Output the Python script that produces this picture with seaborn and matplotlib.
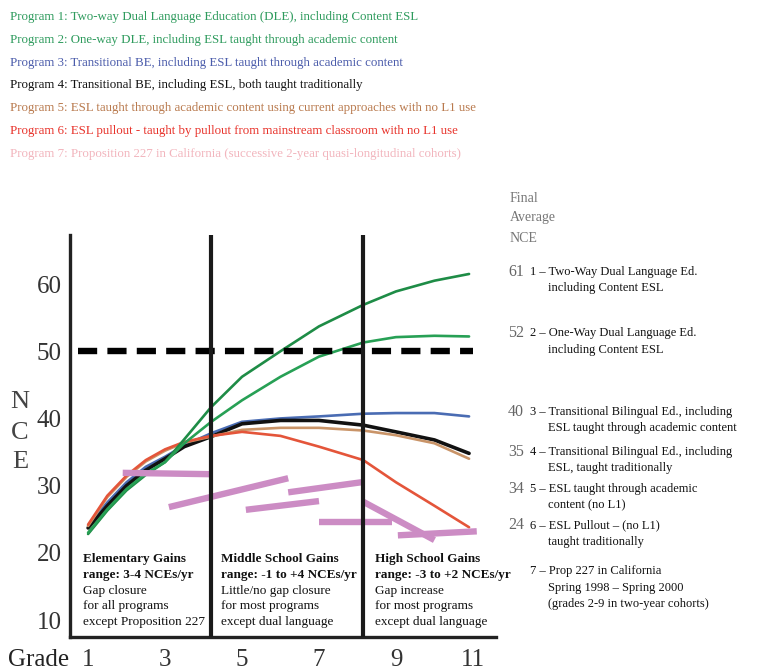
import matplotlib
matplotlib.use("Agg")
import matplotlib.pyplot as plt
import seaborn as sns
import pandas as pd

# --- data --------------------------------------------------------------
grades = [1, 1.5, 2, 2.5, 3, 3.5, 4.2, 5, 6, 7, 8.15, 9, 10, 10.9]
prog1 = [22.8, 26.3, 29.3, 31.6, 33.5, 36.9, 41.7, 46.2, 50.0, 53.7, 56.9, 58.9, 60.5, 61.5]
prog2 = [23.0, 26.5, 29.5, 31.8, 33.5, 36.3, 39.5, 42.7, 46.2, 49.2, 51.3, 52.1, 52.3, 52.2]
prog3 = [24.0, 27.5, 30.5, 32.8, 34.3, 36.0, 37.8, 39.5, 40.0, 40.3, 40.7, 40.8, 40.8, 40.3]
prog4 = [23.7, 27.0, 30.0, 32.3, 34.0, 35.8, 37.3, 39.2, 39.7, 39.7, 39.0, 38.0, 36.8, 34.8]
prog5 = [24.0, 28.3, 31.3, 33.6, 35.2, 36.4, 37.3, 38.3, 38.6, 38.6, 38.2, 37.5, 36.3, 34.0]
prog6 = [24.2, 28.5, 31.5, 33.8, 35.4, 36.5, 37.4, 38.0, 37.4, 35.8, 33.8, 30.5, 27.0, 23.8]

# Prop 227 cohorts (start grade, end grade, start NCE, end NCE)
p7_x0 = [1.9, 3.1, 6.2, 5.1, 7.0, 8.15, 9.05]
p7_x1 = [4.2, 6.2, 8.1, 7.0, 8.9, 10.0, 11.1]
p7_y0 = [31.9, 26.8, 29.0, 26.4, 24.6, 27.6, 22.6]
p7_y1 = [31.7, 31.1, 30.5, 27.7, 24.6, 21.9, 23.2]

final_nce = ["61", "52", "40", "35", "34", "24"]
right_labels = [
    ["1 \u2013 Two-Way Dual Language Ed.", "including Content ESL"],
    ["2 \u2013 One-Way Dual Language Ed.", "including Content ESL"],
    ["3 \u2013 Transitional Bilingual Ed., including", "ESL taught through academic content"],
    ["4 \u2013 Transitional Bilingual Ed., including", "ESL, taught traditionally"],
    ["5 \u2013 ESL taught through academic", "content (no L1)"],
    ["6 \u2013 ESL Pullout \u2013 (no L1)", "taught traditionally"],
    ["7 \u2013 Prop 227 in California", "Spring 1998 \u2013 Spring 2000",
     "(grades 2-9 in two-year cohorts)"],
]
legend_lines = [
    "Program 1: Two-way Dual Language Education (DLE), including Content ESL",
    "Program 2: One-way DLE, including ESL taught through academic content",
    "Program 3: Transitional BE, including ESL taught through academic content",
    "Program 4: Transitional BE, including ESL, both taught traditionally",
    "Program 5: ESL taught through academic content using current approaches with no L1 use",
    "Program 6: ESL pullout - taught by pullout from mainstream classroom with no L1 use",
    "Program 7: Proposition 227 in California (successive 2-year quasi-longitudinal cohorts)",
]
boxes = [
    (0.87, ["Elementary Gains", "range: 3-4 NCEs/yr", "Gap closure",
            "for all programs", "except Proposition 227"]),
    (4.45, ["Middle School Gains", "range: -1 to +4 NCEs/yr", "Little/no gap closure",
            "for most programs", "except dual language"]),
    (8.45, ["High School Gains", "range: -3 to +2 NCEs/yr", "Gap increase",
            "for most programs", "except dual language"]),
]

# --- styling --------------------------------------------------------------
sns.set_theme(style="white")
plt.rcParams['font.family'] = ['Liberation Serif', 'DejaVu Serif']

line_colors = {'P1': '#1e8c46', 'P2': '#27a055', 'P3': '#4a6cb3',
               'P4': '#111111', 'P5': '#c99468', 'P6': '#e4553a'}
text_colors = ['#2e9b5d', '#2e9b5d', '#4b5cab', '#111111', '#b97a4e', '#e8332b', '#f2b5bd']
pink = '#cc8cc4'

rows = []
for name, vals in zip(['P1', 'P2', 'P3', 'P4', 'P5', 'P6'],
                      [prog1, prog2, prog3, prog4, prog5, prog6]):
    for g, v in zip(grades, vals):
        rows.append({'grade': g, 'nce': v, 'program': name})
df = pd.DataFrame(rows)

W, H = 770, 670
fig = plt.figure(figsize=(W / 100, H / 100), dpi=100)
ax = fig.add_axes([70 / W, 33 / H, 426 / W, 402 / H])

# greens drawn last so they sit on top in the upper part
sns.lineplot(data=df[df.program.isin(['P6', 'P5', 'P3', 'P4'])], x='grade', y='nce',
             hue='program', palette=line_colors, estimator=None, sort=False,
             linewidth=1.9, legend=False, ax=ax)
sns.lineplot(data=df[df.program.isin(['P1', 'P2'])], x='grade', y='nce',
             hue='program', palette=line_colors, estimator=None, sort=False,
             linewidth=1.9, legend=False, ax=ax)
for ln in ax.get_lines():
    if ln.get_color() == '#111111':
        ln.set_linewidth(2.6)

for x0, x1, y0, y1 in zip(p7_x0, p7_x1, p7_y0, p7_y1):
    ax.plot([x0, x1], [y0, y1], color=pink, linewidth=4.6,
            solid_capstyle='butt', zorder=3)

ax.plot([0.75, 11.0], [50, 50], color='black', linewidth=4.6,
        dashes=(3.0, 1.6), zorder=4)
for xv in [4.2, 8.15]:
    ax.axvline(xv, color='#1a1a1a', linewidth=3, zorder=5)

ax.set_xlim(0.53, 11.6)
ax.set_ylim(7.47, 67.3)
ax.set_xticks([1, 3, 5, 7, 9, 11])
ax.set_yticks([10, 20, 30, 40, 50, 60])
ax.tick_params(axis='x', length=0, pad=9, labelsize=18, labelcolor='#333333')
ax.tick_params(axis='y', direction='in', length=5, width=1, color='#555555',
               pad=6, labelsize=18, labelcolor='#333333')
ax.set_xlabel('')
ax.set_ylabel('')
sns.despine(ax=ax)
for side in ['left', 'bottom']:
    ax.spines[side].set_linewidth(2.4)
    ax.spines[side].set_color('#222222')

# text boxes in each school period
for bx, lines in boxes:
    for i, t in enumerate(lines):
        ax.annotate(t, xy=(bx, 19.9), xytext=(0, -i * 11.2), textcoords='offset points',
                    ha='left', va='top', fontsize=9.5,
                    fontweight='bold' if i < 2 else 'normal', color='#111111')

# N C E and Grade labels
for ch, yy in zip(['N', 'C', 'E'], [402, 433, 462]):
    fig.text(20 / W, 1 - yy / H, ch, ha='center', va='center', fontsize=19, color='#444444')
fig.text(8 / W, 1 - 660 / H, 'Grade', ha='left', va='center', fontsize=18, color='#222222')

# program legend at the top
for i, (t, c) in enumerate(zip(legend_lines, text_colors)):
    fig.text(10 / W, 1 - (17 + i * 22.8) / H, t, ha='left', va='center',
             fontsize=9.3, color=c)

# right side annotations
for t, yy in zip(['Final', 'Average', 'NCE'], [198, 218, 238]):
    fig.text(510 / W, 1 - yy / H, t, ha='left', va='center', fontsize=10, color='#777777')
label_y = [272, 333, 412, 452, 489, 525, 571]
for i, (lab, yy) in enumerate(zip(right_labels, label_y)):
    if i < len(final_nce):
        fig.text(508 / W, 1 - yy / H, final_nce[i], ha='left', va='center',
                 fontsize=11.5, color='#666666')
    for j, t in enumerate(lab):
        xx = 530 if j == 0 else 548
        fig.text(xx / W, 1 - (yy + j * 16.5) / H, t, ha='left', va='center',
                 fontsize=9, color='#111111')

fig.savefig('out.png', dpi=100)
